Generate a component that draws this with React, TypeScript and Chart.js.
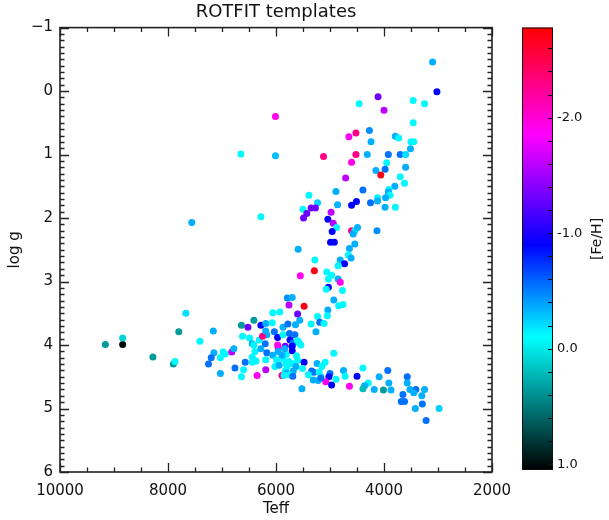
import React, { useEffect, useRef } from 'react';
import { Chart, registerables } from 'chart.js';

Chart.register(...registerables);

// ---- data ----
const TEFF = [
  9160, 8840, 8840, 8280, 7800, 7900, 7870, 7670, 7410, 7160,
  7150, 7200, 7250, 7030, 6980, 6940, 6820, 6780, 7030, 6760,
  6570, 6600, 6640, 6640, 6520, 6620, 6410, 6490, 6440, 6200,
  6310, 6350, 6390, 6280, 6370, 6440, 6280, 6190, 6070, 6060,
  5930, 5790, 5760, 6170, 6250, 6190, 6030, 5970, 5870, 5780,
  5870, 5970, 5830, 5960, 6170, 6190, 6060, 6020, 5960, 5990,
  6190, 5870, 5810, 5890, 5830, 5790, 5700, 5480, 5600, 5560,
  5350, 5230, 5040, 5050, 4840, 4760, 4770, 4930, 5190, 5110,
  5260, 5640, 5750, 5650, 5740, 5690, 5600, 5570, 5540, 5700,
  5700, 5840, 6410, 5890, 5620, 5600, 5760, 5710, 5810, 5940,
  5480, 5630, 5510, 5240, 5090, 4930, 5150, 5340, 5300, 5200,
  5400, 5680, 5800, 5750, 5690, 5850, 5310, 5220, 5170, 5000,
  5020, 5080, 4970, 4890, 4750, 4720, 4500, 4640, 5520, 6440,
  5170, 4390, 4290, 4360, 4390, 4180, 4090, 3930, 3910, 4010,
  3870, 3570, 3570, 3520, 3410, 3450, 3250, 3650, 3300, 3680,
  3620, 3290, 3420, 2980, 3220,
  3100, 3020, 4110, 4460, 3460, 3250, 4000, 3460, 4270, 4520,
  4650, 4240, 3790, 3730, 3500, 3450, 3510, 5120, 4520, 4310,
  3920, 3700, 3600, 4600, 3950, 4150, 3980, 3600, 4060, 3700,
  4710, 3620, 3800, 3910, 3920, 3890, 3970, 4120, 4120, 4250,
  4390, 4890, 5390, 5230, 5500, 5350, 5270, 5430, 5490, 4980,
  4860, 4600, 4510, 3980, 3790, 5040, 4940, 4880, 4960, 4600,
  4540, 4570, 4490, 4130, 4990, 4920, 4540, 4640, 5590, 4660,
  4610, 4810, 4730, 4850, 5280, 5290, 5550, 5060, 4970, 5030,
  4850, 4810, 5030, 5070,
  6010, 6650, 6010, 6280, 7560,
];

const LOGG = [
  3.99, 3.99, 3.89, 4.19, 3.79, 4.30, 4.26, 3.50, 3.94, 3.78,
  4.12, 4.20, 4.30, 4.20, 4.11, 4.14, 4.11, 4.06, 4.45, 4.36,
  4.27, 4.39, 4.50, 3.69, 3.72, 3.86, 3.61, 3.89, 3.98, 3.98,
  3.92, 4.48, 4.10, 4.06, 4.25, 4.19, 3.69, 3.66, 3.65, 3.49,
  3.48, 3.26, 3.37, 3.84, 3.86, 3.78, 3.79, 3.88, 3.72, 3.67,
  3.84, 4.00, 4.02, 4.04, 4.12, 4.23, 4.16, 4.34, 4.10, 4.23,
  4.39, 4.22, 4.15, 4.48, 4.41, 4.34, 3.25, 3.39, 3.51, 3.61,
  3.67, 3.55, 3.45, 3.54, 3.38, 3.36, 3.14, 3.29, 3.64, 3.66,
  3.79, 3.68, 3.82, 3.84, 3.92, 3.97, 3.93, 3.97, 4.00, 4.02,
  4.09, 4.06, 4.00, 4.16, 4.17, 4.24, 4.26, 4.29, 4.30, 4.32,
  4.27, 4.34, 4.37, 4.29, 4.27, 4.13, 4.34, 4.41, 4.43, 4.43,
  4.47, 4.41, 4.44, 4.47, 4.49, 4.48, 4.55, 4.56, 4.50, 4.45,
  4.50, 4.58, 4.63, 4.54, 4.40, 4.49, 4.49, 4.65, 4.69, 4.27,
  4.52, 4.36, 4.60, 4.64, 4.69, 4.70, 4.50, 4.40, 4.60, 4.71,
  4.71, 4.50, 4.60, 4.70, 4.70, 4.75, 4.70, 4.78, 4.80, 4.89,
  4.89, 4.93, 5.00, 5.00, 5.19,
  -0.46, 0.01, 0.09, 0.20, 0.15, 0.20, 0.30, 0.50, 0.62, 0.66,
  0.72, 0.80, 0.71, 0.74, 0.80, 0.80, 0.91, 1.03, 1.00, 1.00,
  1.00, 1.00, 1.00, 1.12, 1.13, 1.25, 1.23, 1.20, 1.32, 1.35,
  1.37, 1.45, 1.50, 1.55, 1.59, 1.64, 1.68, 1.68, 1.73, 1.76,
  1.56, 1.58, 1.64, 1.76, 1.86, 1.84, 1.84, 1.93, 2.00, 1.91,
  1.79, 1.80, 1.74, 1.83, 1.83, 2.02, 2.08, 2.15, 2.21, 2.20,
  2.20, 2.25, 2.15, 2.20, 2.38, 2.38, 2.41, 2.48, 2.49, 2.58,
  2.63, 2.66, 2.72, 2.75, 2.66, 2.83, 2.91, 2.85, 2.90, 2.96,
  2.96, 3.01, 3.09, 3.12,
  0.40, 0.99, 1.02, 1.98, 2.07,
];

const FEH = [
  0.35, 1.0, 0.1, 0.35, 0.35, 0.35, -0.12, -0.2, -0.12, -0.35,
  -0.35, -0.55, -0.55, -0.12, -0.12, -0.12, -1.6, -0.35, -0.35, -0.55,
  -0.55, -0.12, -0.12, 0.35, -1.3, -0.12, 0.35, -0.12, -0.35, -0.55,
  -0.12, -1.9, -0.12, -0.35, -0.12, -0.12, -0.9, -0.35, -0.12, -0.12,
  -0.12, -0.45, -1.6, -0.35, -2.3, -0.35, -0.55, -0.9, -0.35, -0.55,
  -0.12, -1.9, -1.3, -1.9, -0.55, -0.12, -0.35, -0.12, -0.35, -0.12,
  -1.6, -0.12, -0.12, -2.3, -0.12, -0.12, -0.35, -2.7, -1.3, -0.35,
  -0.12, -0.12, -0.35, -0.12, -0.12, -0.12, -0.12, -0.35, -0.55, -0.12,
  -0.35, -0.35, -0.55, -0.55, -0.9, -0.55, -0.12, -0.12, -0.12, -0.9,
  -0.9, -0.35, -0.12, -0.35, -0.12, -0.12, -0.12, -0.12, -0.12, -0.35,
  -0.9, -0.35, -0.12, -0.35, -0.12, -0.12, -0.12, -0.55, -0.55, -0.12,
  -0.12, -0.35, -0.35, -0.12, -0.55, -0.12, -0.35, -0.35, -0.12, -0.55,
  -0.9, -1.9, -0.9, -0.12, -0.35, -0.12, -0.9, -1.9, -0.35, -0.12,
  -0.55, -0.12, -0.12, -0.35, 0.2, -0.35, -0.35, -0.55, -0.35, 0.35,
  -0.35, -0.55, -0.35, -0.35, -0.55, -0.35, -0.35, -0.55, -0.35, -0.55,
  -0.55, -0.55, -0.35, -0.25, -0.55,
  -0.35, -0.9, -1.3, -0.12, -0.12, -0.12, -1.6, -0.12, -0.45, -2.3,
  -1.9, -0.35, -0.35, -0.12, -0.12, -0.12, -0.35, -2.3, -2.3, -0.35,
  -0.55, -0.55, -0.2, -1.9, -0.12, -0.35, -0.55, -0.35, -2.7, -0.12,
  -1.6, -0.12, -0.35, -0.12, -0.35, -0.12, -0.35, -0.12, -0.35, -0.55,
  -0.55, -0.35, -0.12, -0.25, -0.12, -1.3, -1.3, -1.3, -1.3, -1.6,
  -0.35, -0.9, -0.9, -0.35, -0.12, -0.9, -1.6, -0.12, -0.9, -2.3,
  0.0, -0.35, -0.35, -0.45, -0.9, -0.9, -0.35, -0.35, -0.35, -0.12,
  -0.35, -0.35, -0.9, -0.12, -0.12, -2.7, -1.9, -0.12, -0.12, -0.12,
  -0.35, -1.9, -0.9, -0.12,
  -1.9, -0.12, -0.3, -0.12, -0.35,
];

const X_MIN = 2000;
const X_MAX = 10000;
const X_MAJOR = [10000, 8000, 6000, 4000, 2000];
const X_MINOR_STEP = 500;
const Y_MIN = -1;
const Y_MAX = 6;
const Y_MAJOR = [-1, 0, 1, 2, 3, 4, 5, 6];
const Y_MINOR_STEP = 0.1;

const FEH_MIN = -2.78;
const FEH_MAX = 1.05;
const CB_TICKS = [-2, -1, 0, 1];
const CB_MINOR_STEP = 0.2;

// colour table: [Fe/H] value -> rgb
const CMAP_VALUES = [-2.78, -1.85, -0.9, -0.1, 1.05];
const CMAP_COLORS = [
  [255, 0, 0],
  [255, 0, 255],
  [0, 0, 255],
  [0, 255, 255],
  [0, 0, 0],
];

const FONT = 'DejaVu Sans';
const INK = '#111';

function rgb(c: number[]) {
  return `rgb(${Math.round(c[0])},${Math.round(c[1])},${Math.round(c[2])})`;
}

function fehColor(v: number) {
  if (v <= CMAP_VALUES[0]) return rgb(CMAP_COLORS[0]);
  for (let i = 1; i < CMAP_VALUES.length; i++) {
    if (v <= CMAP_VALUES[i]) {
      const f = (v - CMAP_VALUES[i - 1]) / (CMAP_VALUES[i] - CMAP_VALUES[i - 1]);
      const a = CMAP_COLORS[i - 1];
      const b = CMAP_COLORS[i];
      return rgb([a[0] + (b[0] - a[0]) * f, a[1] + (b[1] - a[1]) * f, a[2] + (b[2] - a[2]) * f]);
    }
  }
  return rgb(CMAP_COLORS[CMAP_COLORS.length - 1]);
}

const frameTicks = {
  id: 'frameTicks',
  afterDatasetsDraw(chart: any) {
    const { ctx, chartArea: a, scales } = chart;
    const x = scales.x;
    const y = scales.y;
    ctx.save();
    ctx.strokeStyle = '#222';
    ctx.lineWidth = 1.6;
    ctx.strokeRect(a.left, a.top, a.right - a.left, a.bottom - a.top);
    ctx.lineWidth = 1.3;
    ctx.beginPath();
    for (let v = X_MIN; v <= X_MAX + 1e-6; v += X_MINOR_STEP) {
      const major = X_MAJOR.some((m) => Math.abs(m - v) < 1e-6);
      const len = major ? 9 : 4.5;
      const px = Math.round(x.getPixelForValue(v)) + 0.5;
      ctx.moveTo(px, a.bottom);
      ctx.lineTo(px, a.bottom - len);
      ctx.moveTo(px, a.top);
      ctx.lineTo(px, a.top + len);
    }
    const n = Math.round((Y_MAX - Y_MIN) / Y_MINOR_STEP);
    for (let i = 0; i <= n; i++) {
      const v = Y_MIN + i * Y_MINOR_STEP;
      const major = Y_MAJOR.some((m) => Math.abs(m - v) < 1e-6);
      const len = major ? 9 : 4.5;
      const py = Math.round(y.getPixelForValue(v)) + 0.5;
      ctx.moveTo(a.left, py);
      ctx.lineTo(a.left + len, py);
      ctx.moveTo(a.right, py);
      ctx.lineTo(a.right - len, py);
    }
    ctx.stroke();
    ctx.restore();
  },
};

const colorbarDecor = {
  id: 'colorbarDecor',
  afterDatasetsDraw(chart: any) {
    const { ctx, chartArea: a, scales } = chart;
    const y = scales.y;
    ctx.save();
    ctx.strokeStyle = '#111';
    ctx.lineWidth = 1;
    ctx.strokeRect(a.left + 0.5, a.top + 0.5, a.right - a.left - 1, a.bottom - a.top - 1);
    ctx.beginPath();
    const start = Math.ceil(FEH_MIN / CB_MINOR_STEP);
    const end = Math.floor(FEH_MAX / CB_MINOR_STEP);
    for (let i = start; i <= end; i++) {
      const v = i * CB_MINOR_STEP;
      const py = Math.round(y.getPixelForValue(v)) + 0.5;
      ctx.moveTo(a.right, py);
      ctx.lineTo(a.right - 5, py);
    }
    ctx.stroke();
    // axis title
    ctx.fillStyle = INK;
    ctx.font = `14px "${FONT}"`;
    ctx.textAlign = 'center';
    ctx.textBaseline = 'middle';
    ctx.translate(a.right + 44, y.getPixelForValue(-0.95));
    ctx.rotate(-Math.PI / 2);
    ctx.fillText('[Fe/H]', 0, 0);
    ctx.restore();
  },
};

export default function App() {
  const mainRef = useRef<HTMLCanvasElement>(null);
  const cbRef = useRef<HTMLCanvasElement>(null);

  useEffect(() => {
    const points = TEFF.map((t, i) => ({ x: t, y: LOGG[i] }));
    const colors = FEH.map(fehColor);

    const main = new Chart(mainRef.current as HTMLCanvasElement, {
      type: 'scatter',
      data: {
        datasets: [
          {
            data: points,
            pointBackgroundColor: colors,
            pointBorderWidth: 0,
            pointRadius: 3.5,
            pointHoverRadius: 3.5,
            showLine: false,
          } as any,
        ],
      },
      options: {
        animation: false,
        responsive: false,
        events: [],
        layout: { padding: { left: 0, right: 117, top: 0, bottom: 0 } },
        plugins: {
          legend: { display: false },
          tooltip: { enabled: false },
          title: {
            display: true,
            fullSize: false,
            text: 'ROTFIT templates',
            color: INK,
            font: { family: FONT, size: 18, weight: 'normal' },
            padding: { top: 2, bottom: 4 },
          },
        },
        scales: {
          x: {
            type: 'linear',
            min: X_MIN,
            max: X_MAX,
            reverse: true,
            grid: { display: false, drawTicks: false },
            border: { display: false },
            afterBuildTicks: (s: any) => {
              s.ticks = X_MAJOR.map((v) => ({ value: v }));
            },
            afterFit: (s: any) => {
              s.height = 48;
            },
            ticks: {
              color: INK,
              font: { family: FONT, size: 15 },
              padding: 10,
              maxRotation: 0,
              autoSkip: false,
              callback: (v: any) => String(v),
            },
            title: {
              display: true,
              text: 'Teff',
              color: INK,
              font: { family: FONT, size: 15 },
              padding: { top: 0, bottom: 2 },
            },
          },
          y: {
            type: 'linear',
            min: Y_MIN,
            max: Y_MAX,
            reverse: true,
            grid: { display: false, drawTicks: false },
            border: { display: false },
            afterBuildTicks: (s: any) => {
              s.ticks = Y_MAJOR.map((v) => ({ value: v }));
            },
            afterFit: (s: any) => {
              s.width = 60;
            },
            ticks: {
              color: INK,
              font: { family: FONT, size: 15 },
              padding: 7,
              autoSkip: false,
              callback: (v: any) => (v < 0 ? '\u2212' + Math.abs(v) : String(v)),
            },
            title: {
              display: true,
              text: 'log g',
              color: INK,
              font: { family: FONT, size: 15 },
              padding: { top: 6, bottom: 6 },
            },
          },
        },
      } as any,
      plugins: [frameTicks],
    });

    const cb = new Chart(cbRef.current as HTMLCanvasElement, {
      type: 'bar',
      data: {
        labels: ['[Fe/H]'],
        datasets: [
          {
            data: [[FEH_MAX, FEH_MIN]],
            borderWidth: 0,
            barPercentage: 1,
            categoryPercentage: 1,
            backgroundColor: (c: any) => {
              const chart = c.chart;
              const ys = chart.scales && chart.scales.y;
              if (!chart.chartArea || !ys) return '#000';
              const g = chart.ctx.createLinearGradient(
                0,
                ys.getPixelForValue(FEH_MIN),
                0,
                ys.getPixelForValue(FEH_MAX)
              );
              CMAP_VALUES.forEach((v, i) => {
                g.addColorStop((v - FEH_MIN) / (FEH_MAX - FEH_MIN), rgb(CMAP_COLORS[i]));
              });
              return g;
            },
          } as any,
        ],
      },
      options: {
        animation: false,
        responsive: false,
        events: [],
        layout: { padding: { left: 22, right: 0, top: 27.5, bottom: 50 } },
        plugins: {
          legend: { display: false },
          tooltip: { enabled: false },
          title: { display: false },
        },
        scales: {
          x: { display: false },
          y: {
            type: 'linear',
            position: 'right',
            min: FEH_MIN,
            max: FEH_MAX,
            reverse: true,
            grid: { display: false, drawTicks: false },
            border: { display: false },
            afterBuildTicks: (s: any) => {
              s.ticks = CB_TICKS.map((v) => ({ value: v }));
            },
            afterFit: (s: any) => {
              s.width = 56;
            },
            ticks: {
              color: INK,
              font: { family: FONT, size: 13 },
              padding: 4,
              autoSkip: false,
              callback: (v: any) => (v < 0 ? '-' : '') + Math.abs(v).toFixed(1),
            },
          },
        },
      } as any,
      plugins: [colorbarDecor],
    });

    return () => {
      main.destroy();
      cb.destroy();
    };
  }, []);

  return (
    <div
      style={{
        position: 'fixed',
        left: 0,
        top: 0,
        width: 609,
        height: 520,
        background: '#fff',
        overflow: 'hidden',
      }}
    >
      <canvas
        ref={mainRef}
        width={609}
        height={520}
        style={{ position: 'absolute', left: 0, top: 0, width: 609, height: 520 }}
      />
      <canvas
        ref={cbRef}
        width={109}
        height={520}
        style={{ position: 'absolute', left: 500, top: 0, width: 109, height: 520 }}
      />
    </div>
  );
}
